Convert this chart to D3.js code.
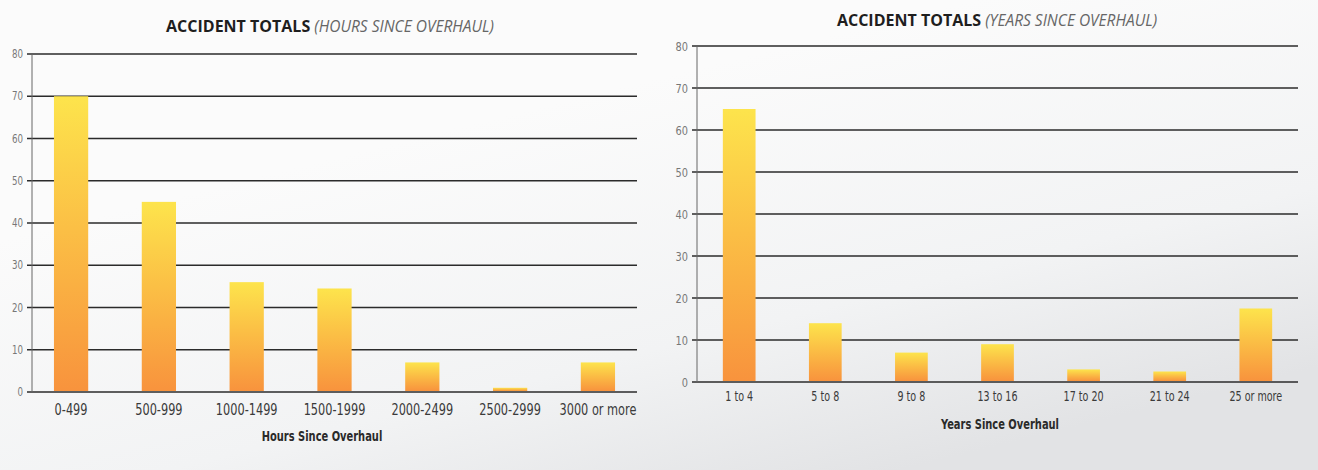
<!DOCTYPE html>
<html>
<head>
<meta charset="utf-8">
<script src="https://cdn.jsdelivr.net/npm/d3@7"></script>
<style>
  html, body { margin: 0; padding: 0; background: #fbfbfb; }
  svg { display: block; }
  .title-bold { font-family: "Open Sans", sans-serif; font-weight: 700; fill: #1e1e1e; }
  .title-it { font-family: "Open Sans", sans-serif; font-style: italic; fill: #666; }
  .xlab { font-family: "DejaVu Sans Condensed", "DejaVu Sans", sans-serif; fill: #3a3a3a; }
  .ylab { font-family: "DejaVu Sans Condensed", "DejaVu Sans", sans-serif; fill: #777; }
  .atitle { font-family: "DejaVu Sans Condensed", "DejaVu Sans", sans-serif; font-weight: 700; fill: #2a2a2a; }
</style>
</head>
<body>
<div id="viz"></div>
<script>
// values
var hoursCategories = ['0-499', '500-999', '1000-1499', '1500-1999', '2000-2499', '2500-2999', '3000 or more'],
    hoursValues = [70, 45, 26, 24.5, 7, 1, 7],
    yearsCategories = ['1 to 4', '5 to 8', '9 to 8', '13 to 16', '17 to 20', '21 to 24', '25 or more'],
    yearsValues = [65, 14, 7, 9, 3, 2.5, 17.5],
    yTicks = [0, 10, 20, 30, 40, 50, 60, 70, 80];

var width = 1318,
    height = 470,

    svg = d3.select('#viz')
        .append('svg')
            .attr('width', width)
            .attr('height', height),

    defs = svg.append('defs');

// paper lighting: white top-left, greyish bottom-right
var paper = defs.append('linearGradient')
    .attr('id', 'paper')
    .attr('x1', 0.45).attr('y1', 0.2)
    .attr('x2', 0.9).attr('y2', 0.85);
paper.append('stop').attr('offset', '0%').attr('stop-color', '#fbfbfb');
paper.append('stop').attr('offset', '60%').attr('stop-color', '#f2f3f4');
paper.append('stop').attr('offset', '100%').attr('stop-color', '#e2e3e5');

svg.append('rect')
    .attr('width', width)
    .attr('height', height)
    .attr('fill', 'url(#paper)');

var barFill = defs.append('linearGradient')
    .attr('id', 'barFill')
    .attr('x1', 0).attr('y1', 0)
    .attr('x2', 0).attr('y2', 1);
barFill.append('stop').attr('offset', '0%').attr('stop-color', '#fde44c');
barFill.append('stop').attr('offset', '45%').attr('stop-color', '#fbbf45');
barFill.append('stop').attr('offset', '100%').attr('stop-color', '#f8933d');

var drawChart = function (opts) {
    var g = svg.append('g'),

        x = d3.scaleBand()
            .domain(opts.categories)
            .range([opts.left, opts.right])
            .paddingInner(opts.padIn)
            .paddingOuter(opts.padOut),

        y = d3.scaleLinear()
            .domain([0, 80])
            .range([opts.bottom, opts.top]);

    // gridlines with short ticks to the left of the axis
    g.append('g')
        .selectAll('line')
        .data(yTicks)
        .join('line')
            .attr('x1', opts.left - 5)
            .attr('x2', opts.right)
            .attr('y1', function (d) { return y(d); })
            .attr('y2', function (d) { return y(d); })
            .style('stroke', '#2b2b2b')
            .style('stroke-width', 1.6);

    g.append('line')
        .attr('x1', opts.left).attr('x2', opts.left)
        .attr('y1', y(80)).attr('y2', y(0))
        .style('stroke', '#666')
        .style('stroke-width', 1);

    g.append('g')
        .selectAll('text')
        .data(yTicks)
        .join('text')
            .attr('class', 'ylab')
            .attr('transform', function (d) {
                return 'translate(' + (opts.left - 9) + ',' + y(d) + ') scale(0.84,1)';
            })
            .attr('dy', '0.35em')
            .attr('text-anchor', 'end')
            .style('font-size', opts.yFont + 'px')
            .text(function (d) { return d; });

    g.append('g')
        .selectAll('rect')
        .data(opts.values)
        .join('rect')
            .attr('x', function (d, i) { return x(opts.categories[i]); })
            .attr('y', function (d) { return y(d); })
            .attr('width', x.bandwidth())
            .attr('height', function (d) { return y(0) - y(d) - 1; })
            .attr('fill', 'url(#barFill)');

    g.append('g')
        .selectAll('text')
        .data(opts.categories)
        .join('text')
            .attr('class', 'xlab')
            .attr('transform', function (d) {
                return 'translate(' + (x(d) + x.bandwidth() / 2) + ',' + opts.xLabelY + ') scale(' + opts.xNarrow + ',1)';
            })
            .attr('text-anchor', 'middle')
            .style('font-size', opts.xFont + 'px')
            .text(function (d) { return d; });

    g.append('text')
        .attr('class', 'atitle')
        .attr('transform', 'translate(' + opts.axisTitleX + ',' + opts.axisTitleY + ') scale(0.76,1)')
        .attr('text-anchor', 'middle')
        .style('font-size', '14.5px')
        .text(opts.axisTitle);

    var t = g.append('text')
        .attr('x', opts.titleX)
        .attr('y', opts.titleY)
        .attr('text-anchor', 'middle');
    t.append('tspan')
        .attr('class', 'title-bold')
        .style('font-size', '16px')
        .text('ACCIDENT TOTALS ');
    t.append('tspan')
        .attr('class', 'title-it')
        .style('font-size', '15.5px')
        .text(opts.subtitle);
};

drawChart({
    categories: hoursCategories,
    values: hoursValues,
    left: 32, right: 637, top: 54, bottom: 392,
    padIn: 0.61, padOut: 0.25,
    yFont: 11.5,
    xFont: 15, xNarrow: 0.84, xLabelY: 415,
    axisTitle: 'Hours Since Overhaul', axisTitleX: 322, axisTitleY: 441,
    subtitle: '(HOURS SINCE OVERHAUL)', titleX: 330, titleY: 32
});

drawChart({
    categories: yearsCategories,
    values: yearsValues,
    left: 697, right: 1298, top: 46, bottom: 382,
    padIn: 0.62, padOut: 0.3,
    yFont: 13,
    xFont: 14, xNarrow: 0.76, xLabelY: 401,
    axisTitle: 'Years Since Overhaul', axisTitleX: 1000, axisTitleY: 429,
    subtitle: '(YEARS SINCE OVERHAUL)', titleX: 997, titleY: 26
});
</script>
</body>
</html>
